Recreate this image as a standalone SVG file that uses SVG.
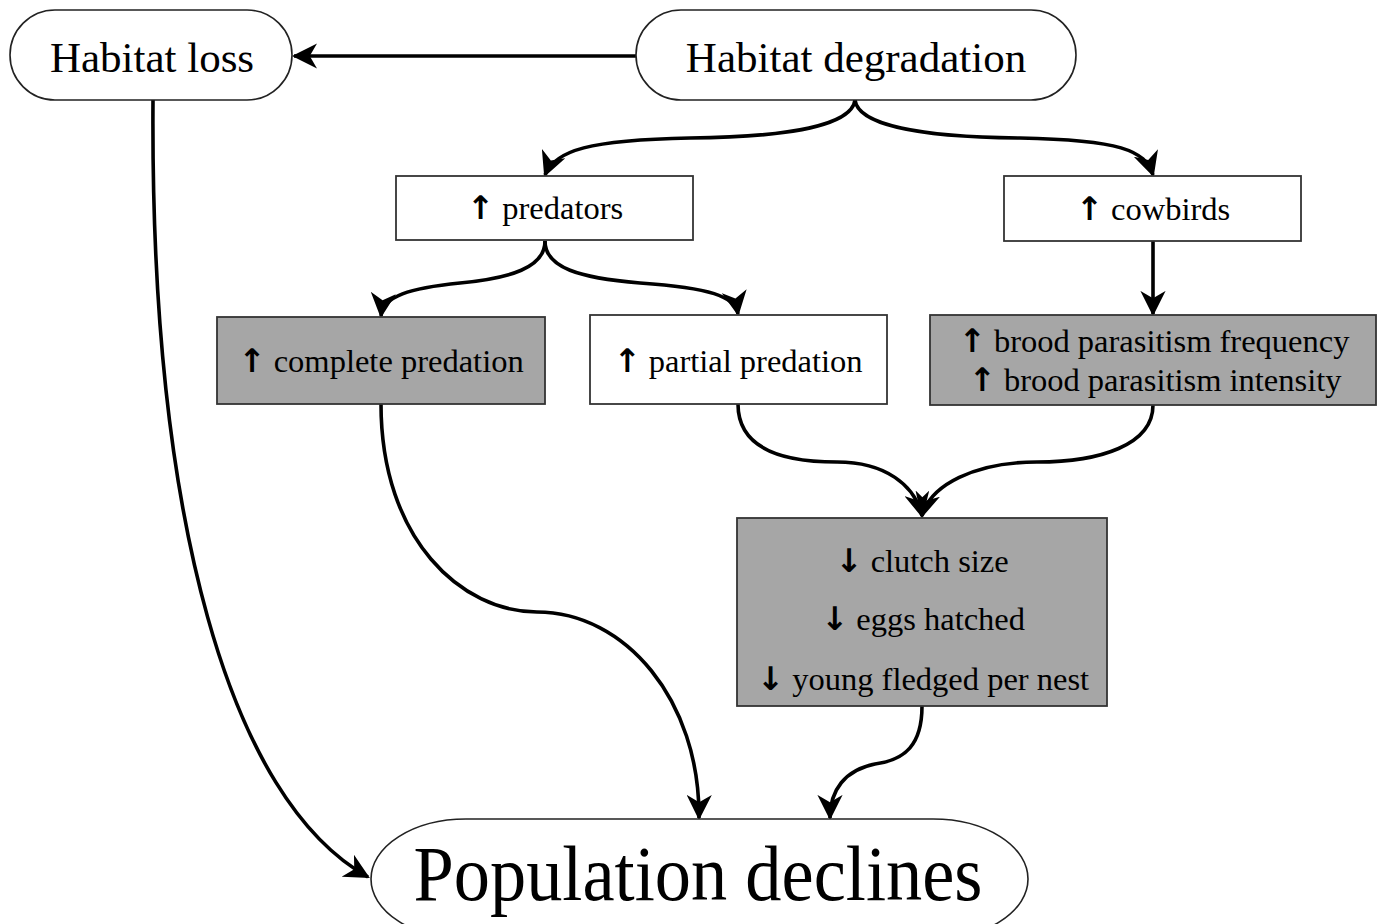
<svg xmlns="http://www.w3.org/2000/svg" width="1384" height="924" viewBox="0 0 1384 924">
<style>
.oval{fill:#fff;stroke:#222;stroke-width:1.6}
.box{fill:#fff;stroke:#333;stroke-width:1.8}
.gbox{fill:#a6a6a6;stroke:#333;stroke-width:1.8}
text{font-family:"Liberation Serif","Times New Roman",serif;fill:#000;text-anchor:middle}
.ar{font-family:"DejaVu Sans",sans-serif;font-weight:bold}
.big{font-size:43px}
.med{font-size:32.5px}
.huge{font-size:78px}
.edge{fill:none;stroke:#000;stroke-width:3.6}
</style>
<defs>
<marker id="ah" viewBox="0 0 12 12" refX="11" refY="6" markerWidth="7" markerHeight="7" markerUnits="strokeWidth" orient="auto">
<path d="M0,0 L12,6 L0,12 L3.5,6 z" fill="#000"/>
</marker>
</defs>
<rect width="1384" height="924" fill="#fff"/>
<g id="connectors">
<path class="edge" d="M636,56 L294,56" marker-end="url(#ah)"/>
<path class="edge" d="M153,100 C150,520 230,800 368,877" marker-end="url(#ah)"/>
<path class="edge" d="M855,100 C852,125 790,137 690,138 C590,140 555,150 545,175" marker-end="url(#ah)"/>
<path class="edge" d="M855,100 C858,125 920,137 1020,138 C1120,140 1145,150 1153,175" marker-end="url(#ah)"/>
<path class="edge" d="M545,241 C545,268 510,278 460,283 C410,288 383,296 381,316" marker-end="url(#ah)"/>
<path class="edge" d="M545,241 C545,268 580,278 640,283 C710,288 735,296 738,314" marker-end="url(#ah)"/>
<path class="edge" d="M1153,241 L1153,314" marker-end="url(#ah)"/>
<path class="edge" d="M738,404 C738,445 775,462 837,462 C885,462 915,485 922,516" marker-end="url(#ah)"/>
<path class="edge" d="M1153,405 C1153,445 1100,462 1037,462 C975,462 930,485 922,516" marker-end="url(#ah)"/>
<path class="edge" d="M381,404 C381,540 462,612 537,612 C625,612 700,700 699,818" marker-end="url(#ah)"/>
<path class="edge" d="M922,706 C922,745 905,760 875,764 C845,770 830,790 830,818" marker-end="url(#ah)"/>
</g>
<g id="habitat-loss">
<rect class="oval" x="10" y="10" width="282" height="90" rx="45" ry="45"/>
<text class="big" x="152" y="72">Habitat loss</text>
</g>
<g id="habitat-degradation">
<rect class="oval" x="636" y="10" width="440" height="90" rx="45" ry="45"/>
<text class="big" x="856" y="72">Habitat degradation</text>
</g>
<g id="predators">
<rect class="box" x="396" y="176" width="297" height="64"/>
<text class="med" x="545" y="219"><tspan class="ar">↑</tspan> predators</text>
</g>
<g id="cowbirds">
<rect class="box" x="1004" y="176" width="297" height="65"/>
<text class="med" x="1153" y="220"><tspan class="ar">↑</tspan> cowbirds</text>
</g>
<g id="complete-predation">
<rect class="gbox" x="217" y="317" width="328" height="87"/>
<text class="med" x="381" y="372"><tspan class="ar">↑</tspan> complete predation</text>
</g>
<g id="partial-predation">
<rect class="box" x="590" y="315" width="297" height="89"/>
<text class="med" x="738" y="372"><tspan class="ar">↑</tspan> partial predation</text>
</g>
<g id="brood-parasitism">
<rect class="gbox" x="930" y="315" width="446" height="90"/>
<text class="med" x="1154" y="352"><tspan class="ar">↑</tspan> brood parasitism frequency</text>
<text class="med" x="1155" y="391"><tspan class="ar">↑</tspan> brood parasitism intensity</text>
</g>
<g id="nest-effects">
<rect class="gbox" x="737" y="518" width="370" height="188"/>
<text class="med" x="922" y="572"><tspan class="ar">↓</tspan> clutch size</text>
<text class="med" x="923" y="630"><tspan class="ar">↓</tspan> eggs hatched</text>
<text class="med" x="923" y="690"><tspan class="ar">↓</tspan> young  fledged per nest</text>
</g>
<g id="population-declines">
<rect class="oval" x="371" y="819" width="657" height="120" rx="95" ry="60"/>
<text class="huge" x="698" y="900" textLength="569" lengthAdjust="spacingAndGlyphs">Population declines</text>
</g>
</svg>
